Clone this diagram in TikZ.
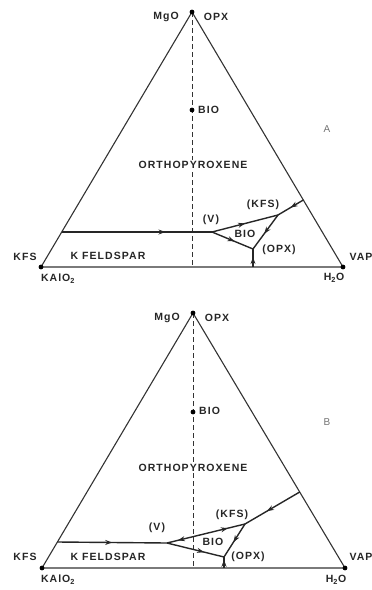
\documentclass[tikz,border=0pt]{standalone}
\usepackage{fontspec}
\setmainfont{Liberation Sans}
\newfontfamily\lblfont[LetterSpace=10]{Liberation Sans}
\usetikzlibrary{arrows.meta,decorations.markings}

\begin{document}
\begin{tikzpicture}[
    x=1pt, y=1pt,
    >=Stealth,
    triside/.style={line width=1.1pt,black!80},
    tieline/.style={line width=1pt,black!80,dash pattern=on 5pt off 3pt},
    rxn/.style={line width=1.4pt,black!85},
    lbl/.style={font=\lblfont\bfseries\fontsize{10.5}{12}\selectfont,inner sep=1pt,text=black!85},
    panel/.style={font=\fontsize{10}{12}\selectfont,text=black!55},
    midarr/.style={postaction={decorate},decoration={markings,
        mark=at position #1 with {\arrow{Stealth[length=7pt,width=5pt]}}}},
    splitarr/.style 2 args={postaction={decorate},decoration={markings,
        mark=at position #1 with {\arrowreversed{Stealth[length=7pt,width=5pt]}},
        mark=at position #2 with {\arrow{Stealth[length=7pt,width=5pt]}}}},
]
\useasboundingbox (0,0) rectangle (372,-590);

%% ---------------- Panel A ----------------
\coordinate (apexA) at (192,-12);
\coordinate (kfsA) at (41,-267);
\coordinate (vapA) at (343,-267);
\coordinate (baseA) at (192,-267);
\coordinate (bioA) at (192,-110);

\draw[triside] (kfsA) -- (apexA) -- (vapA) -- cycle;
\draw[tieline] (apexA) -- (baseA);
\foreach \p in {apexA,kfsA,vapA,bioA}
    \fill (\p) circle[radius=2.4pt];

% invariant points
\coordinate (vptA) at (212,-232);
\coordinate (kptA) at (278,-215);
\coordinate (optA) at (253,-249);
\coordinate (leftA) at (61.7,-232);
\coordinate (rightA) at (303.3,-200);
\coordinate (botA) at (253,-267);

% univariant curves
\draw[rxn,midarr=0.69] (leftA) -- (vptA);
\draw[rxn,midarr=0.5] (vptA) -- (kptA);
\draw[rxn,midarr=0.5] (rightA) -- (kptA);
\draw[rxn,midarr=0.55] (vptA) -- (optA);
\draw[rxn,midarr=0.55] (kptA) -- (optA);
\draw[rxn,midarr=0.55] (botA) -- (optA);

% labels
\node[lbl] (mgoA) at (166,-17) {MgO};
\node[lbl] (opxA) at (216,-17) {OPX};
\node[lbl,anchor=west] (biolA) at (197,-110) {BIO};
\node[panel] (tagA) at (327,-129) {A};
\node[lbl,fill=white] (orthoA) at (193,-165) {ORTHOPYROXENE};
\node[lbl] (vlabA) at (211,-220) {(V)};
\node[lbl] (klabA) at (263,-205) {(KFS)};
\node[lbl] (blabA) at (245,-234) {BIO};
\node[lbl] (olabA) at (279,-250) {(OPX)};
\node[lbl] (kfslA) at (25,-257) {KFS};
\node[lbl] (feldA) at (108,-256) {K FELDSPAR};
\node[lbl] (vaplA) at (361,-257) {VAP};
\node[lbl] (kaloA) at (58,-279) {KAlO\textsubscript{2}};
\node[lbl] (waterA) at (334,-278) {H\textsubscript{2}O};

%% ---------------- Panel B ----------------
\coordinate (apexB) at (193,-313);
\coordinate (kfsB) at (42,-568);
\coordinate (vapB) at (345,-568);
\coordinate (baseB) at (193,-568);
\coordinate (bioB) at (193,-412);

\draw[triside] (kfsB) -- (apexB) -- (vapB) -- cycle;
\draw[tieline] (apexB) -- (baseB);
\foreach \p in {apexB,kfsB,vapB,bioB}
    \fill (\p) circle[radius=2.4pt];

% invariant points
\coordinate (vptB) at (167,-543);
\coordinate (kptB) at (245,-524);
\coordinate (optB) at (224,-557);
\coordinate (leftB) at (57.4,-542);
\coordinate (rightB) at (299.7,-492);
\coordinate (botB) at (224,-568);

% univariant curves
\draw[rxn,midarr=0.5] (leftB) -- (vptB);
\draw[rxn,splitarr={0.22}{0.86}] (kptB) -- (vptB);
\draw[rxn,midarr=0.6] (rightB) -- (kptB);
\draw[rxn,midarr=0.65] (vptB) -- (optB);
\draw[rxn,midarr=0.55] (kptB) -- (optB);
\draw[rxn,midarr=0.75] (botB) -- (optB);

% labels
\node[lbl] (mgoB) at (167,-318) {MgO};
\node[lbl] (opxB) at (217,-318) {OPX};
\node[lbl,anchor=west] (biolB) at (198,-411) {BIO};
\node[panel] (tagB) at (327,-422) {B};
\node[lbl,fill=white] (orthoB) at (193,-468) {ORTHOPYROXENE};
\node[lbl] (vlabB) at (157,-528) {(V)};
\node[lbl] (klabB) at (232,-515) {(KFS)};
\node[lbl] (blabB) at (213,-542) {BIO};
\node[lbl] (olabB) at (248,-557) {(OPX)};
\node[lbl] (kfslB) at (25,-557) {KFS};
\node[lbl] (feldB) at (108,-557) {K FELDSPAR};
\node[lbl] (vaplB) at (361,-557) {VAP};
\node[lbl] (kaloB) at (58,-580) {KAlO\textsubscript{2}};
\node[lbl] (waterB) at (336,-580) {H\textsubscript{2}O};
\end{tikzpicture}
\end{document}
